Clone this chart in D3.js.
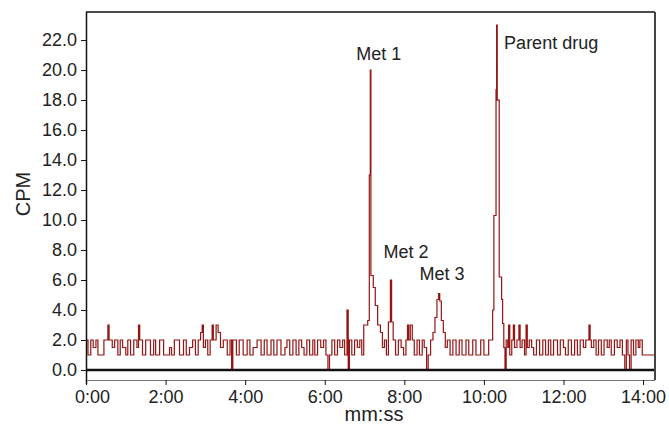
<!DOCTYPE html>
<html>
<head>
<meta charset="utf-8">
<script src="https://cdn.jsdelivr.net/npm/d3@7"></script>
<style>
  html, body { margin: 0; padding: 0; background: #fff; }
  svg { display: block; font-family: "Liberation Sans", Arial, sans-serif; }
</style>
</head>
<body>
<svg id="chart" width="669" height="433"></svg>
<script>
// Retention time (minutes) at which each step starts
const times = [
  0.00, 0.05, 0.12, 0.18, 0.25, 0.30, 0.38, 0.45, 0.55, 0.58, 0.66, 0.72, 0.80, 0.86, 0.92,
  1.00, 1.05, 1.12, 1.20, 1.28, 1.32, 1.35, 1.42, 1.50, 1.62, 1.70, 1.75, 1.85, 1.95,
  2.10, 2.15, 2.22, 2.35, 2.45, 2.52, 2.60, 2.68, 2.75, 2.82, 2.88, 2.92, 2.95,
  3.00, 3.06, 3.12, 3.17, 3.20, 3.27, 3.32, 3.38, 3.45, 3.55, 3.62, 3.66, 3.69, 3.78, 3.85, 3.95,
  4.05, 4.12, 4.20, 4.30, 4.40, 4.48, 4.55, 4.65, 4.72, 4.80, 4.90,
  5.00, 5.05, 5.12, 5.20, 5.28, 5.35, 5.42, 5.48, 5.55, 5.62, 5.70, 5.75, 5.82, 5.90, 5.97,
  6.03, 6.08, 6.12, 6.18, 6.25, 6.32, 6.38, 6.45, 6.50, 6.56, 6.59, 6.62, 6.68, 6.75, 6.82, 6.88, 6.93, 6.98,
  7.08, 7.12, 7.145, 7.16, 7.22, 7.27, 7.33, 7.40, 7.45, 7.50, 7.55, 7.60, 7.65, 7.68, 7.72, 7.78, 7.85, 7.92, 7.98,
  8.04, 8.08, 8.11, 8.15, 8.20, 8.25, 8.32, 8.38, 8.45, 8.50, 8.56, 8.60, 8.66, 8.72, 8.77, 8.82, 8.86, 8.89, 8.93, 8.98,
  9.03, 9.08, 9.15, 9.22, 9.30, 9.38, 9.45, 9.55, 9.62, 9.72, 9.80, 9.92,
  10.00, 10.07, 10.12, 10.22, 10.25, 10.305, 10.32, 10.335, 10.385, 10.445, 10.47, 10.50, 10.53, 10.56, 10.60,
  10.62, 10.65, 10.70, 10.74, 10.77, 10.83, 10.88, 10.91, 10.96,
  11.02, 11.06, 11.09, 11.14, 11.20, 11.25, 11.32, 11.40, 11.48, 11.55, 11.62, 11.68, 11.75, 11.85, 11.92,
  12.00, 12.05, 12.12, 12.20, 12.28, 12.35, 12.42, 12.50, 12.56, 12.64, 12.67, 12.70, 12.76, 12.82, 12.88, 12.95,
  13.02, 13.10, 13.15, 13.20, 13.28, 13.35, 13.42, 13.48, 13.54, 13.58, 13.62, 13.66, 13.70, 13.76, 13.82, 13.88, 13.92, 13.98,
  14.30
];
// Counts per minute for each step
const cpm = [
  2, 1, 2, 1.5, 2, 1, 1, 2, 3, 2, 1.5, 2, 1, 2, 1.5,
  1, 2, 1, 2, 1.5, 3, 2, 1, 2, 1, 2, 1, 2, 1,
  1.5, 1, 2, 1, 2, 1, 1.5, 2, 1, 2, 2.5, 3, 1.5,
  2, 1, 2, 3, 2, 3, 2.5, 1.5, 2, 1, 2, 0, 2, 1, 2, 1,
  2, 1, 1.5, 2, 1, 2, 1, 2, 1, 2, 1,
  1.5, 2, 1, 2, 1, 2, 1.5, 1, 2, 1, 2, 1, 2, 1.5, 2,
  1, 0, 1, 2, 1, 2, 1.5, 2, 1, 4, 0, 2, 1, 2, 1.5, 2, 1, 3,
  3.3, 13, 20, 6.3, 5.5, 4.3, 3, 2.5, 1.5, 2, 1, 3.2, 6, 3.2, 2, 1, 2, 1.5, 1,
  2, 3, 2, 3, 2, 1, 2, 1, 2, 1.5, 0, 1, 2, 2.5, 3.5, 4.7, 5.1, 4.6, 3.3, 2.5,
  1.5, 2, 1, 2, 1, 2, 1, 2, 1, 2, 1, 2,
  1, 1, 2, 4, 10.3, 18.7, 23, 18, 6.2, 4.7, 3.1, 1.5, 0, 2, 1.5,
  3, 1, 2, 3, 1.5, 2, 3, 1.5, 2,
  1, 3, 1.5, 2, 1.5, 1, 2, 1, 2, 1, 2, 1, 2, 1, 2,
  1.5, 1, 2, 1, 2, 1, 2, 1.5, 2, 3, 2, 1.5, 2, 1, 2, 1,
  2, 1.5, 2, 1, 2, 1.5, 2, 1, 0, 2, 1, 0, 2, 1, 2, 1.5, 2, 1,
  1
];
const xTickValues = [0, 2, 4, 6, 8, 10, 12, 14];
const xTickLabels = ["0:00", "2:00", "4:00", "6:00", "8:00", "10:00", "12:00", "14:00"];
const yTickValues = [0, 2, 4, 6, 8, 10, 12, 14, 16, 18, 20, 22];
const peakNames = ["Met 1", "Met 2", "Met 3", "Parent drug"];
const peakTimes = [7.36, 8.04, 8.95, 11.69];
const peakLabelValues = [20.7, 7.5, 6.0, 21.4];

const svg = d3.select("#chart");
const pLeft = 86, pRight = 655, pTop = 12, pBottom = 380;

const x = d3.scaleLinear().domain([0, 14.30]).range([pLeft, pRight]);
const y = d3.scaleLinear().domain([0, 23.87]).range([370, pTop]);

const data = times.map((t, i) => ({ t, v: cpm[i] }));

// trace
const line = d3.line().x(d => x(d.t)).y(d => y(d.v)).curve(d3.curveStepAfter);
svg.append("path")
  .datum(data)
  .attr("d", line)
  .attr("fill", "none")
  .attr("stroke", "#951414")
  .attr("stroke-width", 1.2)
  .attr("stroke-linejoin", "miter");

// zero baseline
svg.append("line")
  .attr("x1", pLeft).attr("x2", pRight)
  .attr("y1", y(0)).attr("y2", y(0))
  .attr("stroke", "#111").attr("stroke-width", 2.4);

// frame top & right
svg.append("line").attr("x1", pLeft).attr("x2", pRight).attr("y1", pTop).attr("y2", pTop)
  .attr("stroke", "#111").attr("stroke-width", 1.5);
svg.append("line").attr("x1", pRight).attr("x2", pRight).attr("y1", pTop).attr("y2", pBottom)
  .attr("stroke", "#444").attr("stroke-width", 2);

// y axis
const yAxis = d3.axisLeft(y).tickValues(yTickValues).tickFormat(d3.format(".1f")).tickSize(5).tickSizeOuter(0);
const gy = svg.append("g").attr("transform", `translate(${pLeft},0)`).call(yAxis);
gy.select(".domain").attr("d", `M0.5,${pTop}V${pBottom + 4}`).attr("stroke", "#111").attr("stroke-width", 1.5);
gy.selectAll(".tick line").attr("stroke", "#111");
gy.selectAll(".tick text")
  .attr("x", -9)
  .attr("fill", "#222")
  .style("font-size", "18px")
  .style("font-family", "'Liberation Sans', Arial, sans-serif");

// x axis
const xAxis = d3.axisBottom(x).tickValues(xTickValues)
  .tickFormat((d, i) => xTickLabels[i]).tickSize(5).tickSizeOuter(0);
const gx = svg.append("g").attr("transform", `translate(0,${pBottom})`).call(xAxis);
gx.select(".domain").attr("d", `M${pLeft},0.5H${pRight}`).attr("stroke", "#777").attr("stroke-width", 1);
gx.selectAll(".tick line").attr("stroke", "#111");
gx.selectAll(".tick text")
  .attr("y", 10)
  .attr("dx", (d, i) => (i === 0 ? 6 : 0))
  .attr("fill", "#222")
  .style("font-size", "18px")
  .style("font-family", "'Liberation Sans', Arial, sans-serif");

// axis titles
svg.append("text")
  .attr("transform", `translate(30,194) rotate(-90)`)
  .attr("text-anchor", "middle")
  .attr("fill", "#222")
  .style("font-size", "20px")
  .text("CPM");
svg.append("text")
  .attr("x", 374).attr("y", 421)
  .attr("text-anchor", "middle")
  .attr("fill", "#222")
  .style("font-size", "20px")
  .text("mm:ss");

// peak labels
svg.selectAll("text.peak")
  .data(peakNames)
  .enter().append("text")
  .attr("class", "peak")
  .attr("x", (d, i) => x(peakTimes[i]))
  .attr("y", (d, i) => y(peakLabelValues[i]))
  .attr("text-anchor", "middle")
  .attr("fill", "#222")
  .style("font-size", "18px")
  .text(d => d);
</script>
</body>
</html>
